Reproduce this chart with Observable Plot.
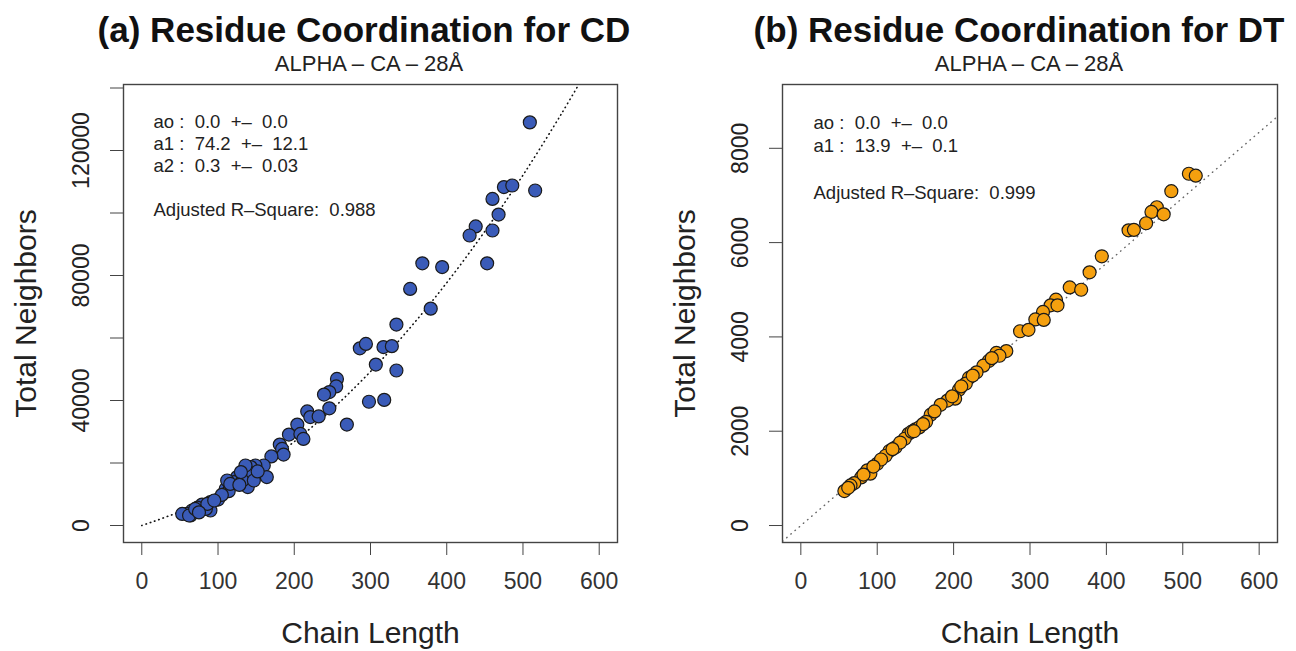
<!DOCTYPE html>
<html><head><meta charset="utf-8">
<script src="https://cdn.jsdelivr.net/npm/d3@7"></script>
<script src="https://cdn.jsdelivr.net/npm/@observablehq/plot@0.6"></script>
<style>
body{margin:0;background:#fff;font-family:"Liberation Sans",Arial,sans-serif;}
#wrap{position:relative;width:1296px;height:651px;overflow:hidden;background:#fff;}
.title{position:absolute;top:0;white-space:nowrap;transform:translateX(-50%);font-weight:bold;font-size:35px;line-height:60px;color:#111;}
.sub{position:absolute;top:52px;white-space:nowrap;transform:translateX(-50%);font-size:22px;line-height:24px;color:#222;}
.panel{position:absolute;top:76px;}
svg text{white-space:pre;}
</style></head><body>
<div id="wrap">
  <div class="title" style="left:364px">(a) Residue Coordination for CD</div>
  <div class="sub" style="left:369px">ALPHA – CA – 28Å</div>
  <div class="title" style="left:1019px">(b) Residue Coordination for DT</div>
  <div class="sub" style="left:1029px">ALPHA – CA – 28Å</div>
  <div class="panel" id="pa" style="left:0px"></div>
  <div class="panel" id="pb" style="left:648px"></div>
</div>
<script>
// ---- data ----
const xTicks = [0, 100, 200, 300, 400, 500, 600];

const cdTicks = [0, 20000, 40000, 60000, 80000, 100000, 120000, 140000];
const cdTickLabels = [0, 40000, 80000, 120000];
const cdLength = [509,475,486,516,460,468,438,430,460,368,394,453,352,379,334,286,294,317,328,307,334,298,318,269,256,255,246,239,246,217,221,232,204,193,208,212,181,184,186,170,160,149,143,138,164,143,139,125,121,114,110,114,100,90,90,79,73,66,59,64,84,86,132,147,136,112,130,53,62,70,116,152,128,105,95,75];
const cdNeighbors = [129000,108300,108800,107200,104500,99500,95700,92800,94400,83900,82700,83900,75700,69400,64300,56700,58100,57100,57400,51500,49600,39600,40200,32300,46900,44500,42700,41900,37500,36500,34700,34900,32300,29100,29300,27700,25900,24500,22700,22100,19200,19200,18700,17600,15500,16500,12300,15500,13900,12800,11700,11000,8300,7500,4800,6700,5700,4800,3700,3200,5300,6900,14400,14400,19200,14400,17100,3700,3200,5300,13300,17300,13000,9800,8000,4200];
// dotted fitted curve
const cdFitLength = [0, 50, 100, 150, 200, 250, 300, 350, 400, 450, 500, 550, 580];
const cdFitNeighbors = [0, 4460, 10420, 17880, 26840, 37300, 49260, 62720, 77680, 94140, 112100, 131560, 144000];
const cdNotes = ["ao :  0.0  +–  0.0", "a1 :  74.2  +–  12.1", "a2 :  0.3  +–  0.03", "Adjusted R–Square:  0.988"];

const dtTicks = [0, 2000, 4000, 6000, 8000];
const dtTickLabels = [0, 2000, 4000, 6000, 8000];
const dtLength = [508,517,485,466,459,475,452,429,436,394,378,352,367,334,327,336,317,307,318,287,298,269,256,246,239,230,220,216,207,202,192,183,170,164,150,141,136,124,116,111,100,87,91,79,70,65,57,145,155,130,120,175,198,225,210,160,105,95,82,62,148,260,250];
const dtNeighbors = [7460,7420,7090,6750,6650,6600,6410,6260,6270,5710,5370,5050,5000,4790,4670,4670,4530,4370,4360,4120,4150,3700,3660,3490,3390,3250,3130,3010,2880,2690,2650,2560,2350,2200,2040,1945,1840,1660,1580,1480,1310,1170,1100,1020,900,850,730,1990,2080,1760,1620,2420,2740,3180,2950,2150,1400,1250,1080,800,2000,3600,3550];
// dotted fitted line, end points read at the frame edges
const dtFitLength = [-24, 624];
const dtFitNeighbors = [-334, 8674];
const dtNotes = ["ao :  0.0  +–  0.0", "a1 :  13.9  +–  0.1", "Adjusted R–Square:  0.999"];

// ---- chart builder ----
function panel(o) {
  const pts = o.xs.map((x, i) => ({x, y: o.ys[i]}));
  const fit = o.fx.map((x, i) => ({x, y: o.fy[i]}));
  const marks = [
    Plot.line(fit, {x: "x", y: "y", stroke: o.fitStroke, strokeWidth: o.fitWidth, strokeDasharray: o.fitDash, strokeLinecap: "round", clip: true, curve: "catmull-rom"}),
    Plot.dot(pts, {x: "x", y: "y", r: 6.5, fill: o.fill, stroke: "#1a1a1a", strokeWidth: 1.2}),
    Plot.frame({stroke: "#444", strokeWidth: 1.4}),
    Plot.axisX({ticks: xTicks, tickSize: 13, tickPadding: 17, fontSize: 23, label: null, stroke: "#444"}),
    Plot.axisY({ticks: o.yTicks, tickSize: 13, tickFormat: () => "", label: null, stroke: "#444"}),
    Plot.text(o.yLabels, {y: d => d, text: d => String(d), frameAnchor: "left", dx: -42, rotate: -90, fontSize: 23, textAnchor: "middle", lineAnchor: "middle", fill: "#222"}),
    Plot.text(["Total Neighbors"], {text: d => d, frameAnchor: "left", dx: -97, rotate: -90, fontSize: 30, textAnchor: "middle", lineAnchor: "middle", fill: "#222"}),
    Plot.text(["Chain Length"], {text: d => d, frameAnchor: "bottom", dy: 91, fontSize: 30, textAnchor: "middle", lineAnchor: "middle", fill: "#222"})
  ];
  o.notes.forEach((t, i) => {
    marks.push(Plot.text([t], {text: d => d, frameAnchor: "top-left", dx: o.noteDx, dy: o.noteDy[i], fontSize: 18.5, textAnchor: "start", lineAnchor: "middle", fill: "#222"}));
  });
  return Plot.plot({
    width: 648, height: 575,
    marginTop: 8, marginBottom: 109, marginLeft: o.ml, marginRight: o.mr,
    x: {domain: [-24, 624]},
    y: {domain: o.yDomain},
    style: {fontFamily: "'Liberation Sans', Arial, sans-serif", fontSize: "23px", color: "#333", background: "transparent", overflow: "visible"},
    marks
  });
}

document.getElementById("pa").append(panel({
  xs: cdLength, ys: cdNeighbors, fx: cdFitLength, fy: cdFitNeighbors,
  fill: "#3a5bb8", fitStroke: "#111", fitWidth: 1.6, fitDash: "0.5,4",
  yDomain: [-5440, 141120], yTicks: cdTicks, yLabels: cdTickLabels,
  notes: cdNotes, noteDx: 30, noteDy: [38, 60, 82, 126], ml: 123, mr: 31
}));
document.getElementById("pb").append(panel({
  xs: dtLength, ys: dtNeighbors, fx: dtFitLength, fy: dtFitNeighbors,
  fill: "#f5a00f", fitStroke: "#666", fitWidth: 1.4, fitDash: "0.5,5",
  yDomain: [-360, 9353], yTicks: dtTicks, yLabels: dtTickLabels,
  notes: dtNotes, noteDx: 31, noteDy: [39, 62, 109], ml: 134, mr: 19
}));
</script>
</body></html>
